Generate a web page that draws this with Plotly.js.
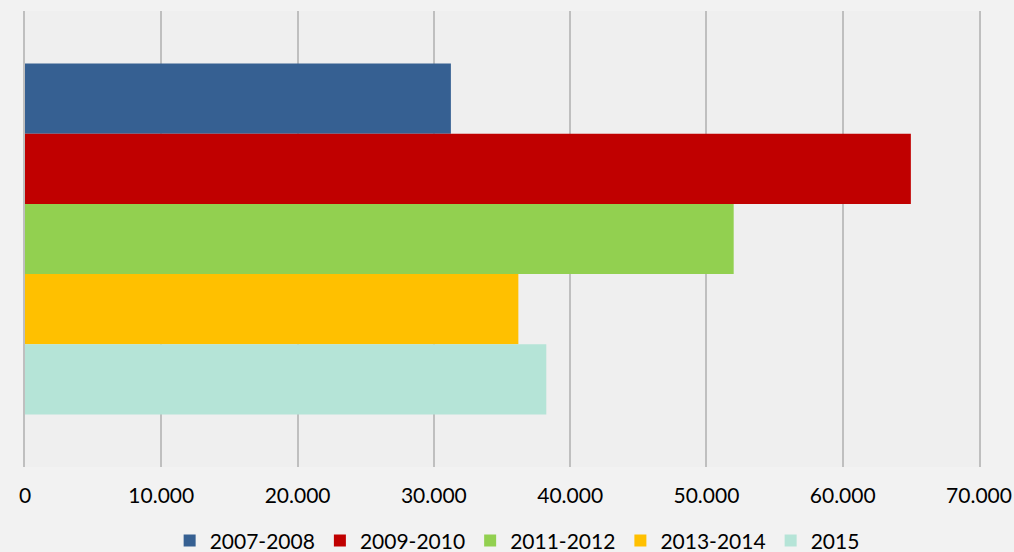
<!DOCTYPE html>
<html>
<head>
<meta charset="utf-8">
<script src="https://cdn.plot.ly/plotly-3.0.1.min.js"></script>
<style>html,body{margin:0;padding:0;background:#f2f2f2;}#chart{width:1014px;height:552px;}</style>
</head>
<body>
<div id="chart"></div>
<script>
const category = [''];
const seriesNames = ['2007-2008', '2009-2010', '2011-2012', '2013-2014', '2015'];
const seriesValues = [31250, 65000, 52000, 36200, 38250];
const seriesColors = ['#366092', '#c00000', '#92d050', '#ffc000', '#b5e4d7'];
const xTicks = [0, 10000, 20000, 30000, 40000, 50000, 60000, 70000];

const traces = seriesNames.map((name, i) => ({
  type: 'bar',
  orientation: 'h',
  name: name,
  y: category,
  x: [seriesValues[i]],
  marker: {color: seriesColors[i]},
  hoverinfo: 'x+name'
}));

const layout = {
  width: 1014, height: 552,
  paper_bgcolor: '#f2f2f2',
  plot_bgcolor: '#efefef',
  margin: {l: 25, r: 35, t: 11, b: 85},
  barmode: 'group',
  bargap: 0.23,
  bargroupgap: 0,
  separators: ',.',
  font: {family: 'Lato, "DejaVu Sans", sans-serif', size: 21, color: '#000'},
  xaxis: {
    range: [0, 70000],
    tickvals: xTicks,
    tickformat: ',d',
    showgrid: true,
    gridcolor: '#bfbfbf',
    gridwidth: 2,
    zeroline: false,
    showline: false,
    ticks: 'outside',
    ticklen: 10,
    tickcolor: 'rgba(0,0,0,0)',
    tickfont: {size: 21, color: '#000'},
    automargin: false,
    fixedrange: true
  },
  yaxis: {
    autorange: 'reversed',
    showticklabels: false,
    showgrid: false,
    zeroline: false,
    showline: true,
    mirror: true,
    linecolor: '#bfbfbf',
    linewidth: 2,
    automargin: false,
    fixedrange: true
  },
  showlegend: true,
  legend: {
    orientation: 'h',
    xref: 'container',
    yref: 'container',
    x: 0.51, xanchor: 'center',
    y: 0.02, yanchor: 'middle',
    font: {size: 21, color: '#000'},
    traceorder: 'normal',
    itemwidth: 30,
    bgcolor: 'rgba(0,0,0,0)'
  }
};

Plotly.newPlot('chart', traces, layout, {displayModeBar: false, staticPlot: true});
</script>
</body>
</html>
